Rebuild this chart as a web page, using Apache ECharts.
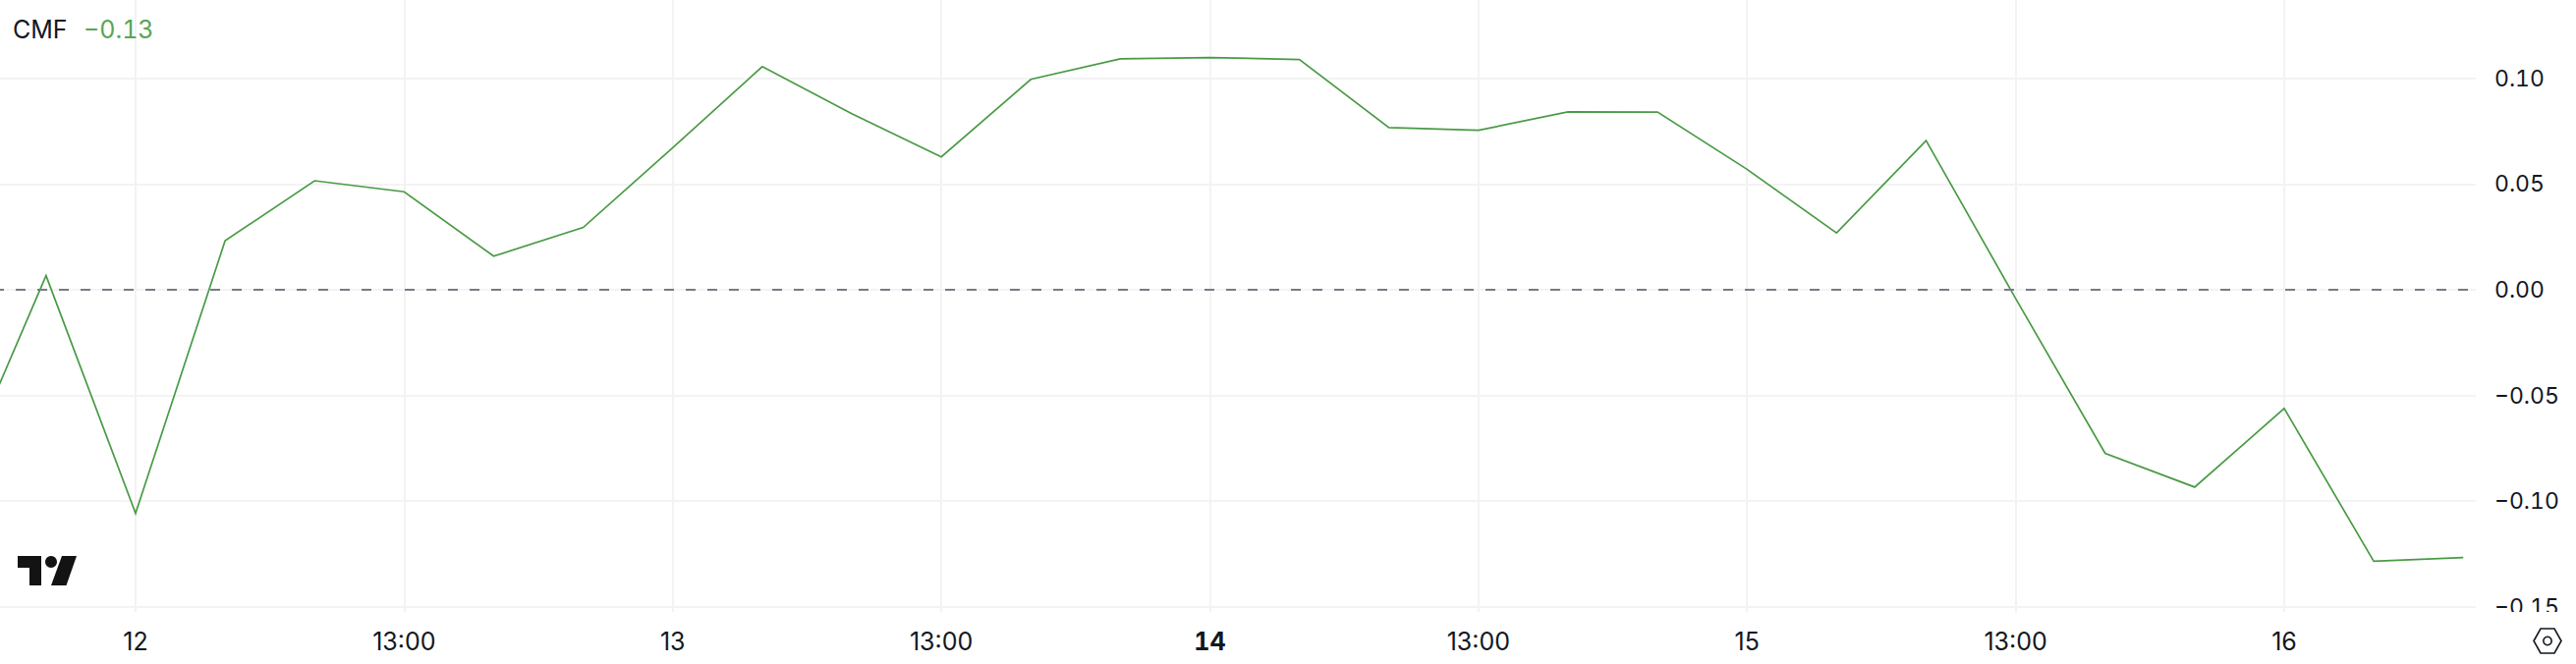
<!DOCTYPE html>
<html>
<head>
<meta charset="utf-8">
<style>html,body{margin:0;padding:0;background:#fff}#c{width:2622px;height:676px}
#c text{font-feature-settings:"tnum" 1;font-variant-numeric:tabular-nums}</style>
<script src="https://cdn.jsdelivr.net/npm/echarts@6/dist/echarts.min.js"></script>
</head>
<body>
<div id="c"></div>
<script>
const indicatorName = 'CMF';
const indicatorValue = '\u22120.13';
const barLabels = ['', '', '12', '', '', '13:00', '', '', '13', '', '', '13:00', '', '', '14', '', '', '13:00', '', '', '15', '', '', '13:00', '', '', '16', '', ''];
const cmfValues = [-0.0920, 0.0067, -0.1058, 0.0232, 0.0516, 0.0464, 0.0159, 0.0295, 0.0672, 0.1056, 0.0833, 0.0629, 0.0996, 0.1093, 0.1099, 0.1090, 0.0768, 0.0755, 0.0842, 0.0841, 0.0570, 0.0269, 0.0706, -0.0041, -0.0774, -0.0934, -0.0562, -0.1285, -0.1267];
const yTicks = [-0.15, -0.10, -0.05, 0, 0.05, 0.10];
const boldLabel = '14';

const FONT = 'Inter';
const TEXT = '#131722';
const GREEN = '#4a9a45';
const GRID = '#f3f3f4';

const xTicks = barLabels.map((l, i) => l ? i : -1).filter(i => i >= 0);
const chart = echarts.init(document.getElementById('c'), null, {renderer: 'svg'});
chart.setOption({
  animation: false,
  backgroundColor: '#ffffff',
  textStyle: {fontFamily: FONT},
  title: {
    left: 8, top: 12,
    text: '{n|' + indicatorName + '}{v|' + indicatorValue + '}',
    textStyle: {
      fontWeight: 'normal',
      rich: {
        n: {fontFamily: FONT, fontSize: 25, fontWeight: 'normal', color: TEXT, width: 72},
        v: {fontFamily: FONT, fontSize: 25, fontWeight: 'normal', color: '#5aa454'}
      }
    }
  },
  grid: {left: 0, top: 0, width: 2520, height: 623, containLabel: false},
  xAxis: {
    type: 'value',
    min: 0.4856, max: 28.14,
    axisLine: {show: false},
    axisTick: {show: false, customValues: xTicks},
    splitLine: {show: true, lineStyle: {color: GRID, width: 2}},
    axisLabel: {
      customValues: xTicks,
      margin: 17,
      fontFamily: FONT, fontSize: 25, color: TEXT,
      formatter: v => {
        const l = barLabels[Math.round(v)];
        return l === boldLabel ? '{b|' + l + '}' : l;
      },
      rich: {b: {fontFamily: FONT, fontSize: 25, fontWeight: 700, color: TEXT}}
    }
  },
  yAxis: {
    type: 'value',
    position: 'right',
    min: -0.15249, max: 0.13715,
    axisLine: {show: false},
    axisTick: {show: false, customValues: yTicks},
    splitLine: {show: true, lineStyle: {color: GRID, width: 2}},
    axisLabel: {
      customValues: yTicks,
      margin: 19,
      align: 'left',
      fontFamily: FONT, fontSize: 23, color: TEXT,
      formatter: v => (v < 0 ? '\u2212' : '') + Math.abs(v).toFixed(2)
    }
  },
  series: [{
    type: 'line',
    name: indicatorName,
    data: cmfValues.map((v, i) => [i, v]),
    showSymbol: false,
    symbol: 'none',
    silent: true,
    lineStyle: {color: GREEN, width: 1.7, join: 'miter'},
    markLine: {
      silent: true,
      symbol: 'none',
      label: {show: false},
      data: [{yAxis: 0}],
      lineStyle: {color: '#787b86', width: 2, type: [10, 12], dashOffset: 6}
    }
  }],
  graphic: [
    {type: 'rect', z: 100, silent: true, shape: {x: 2525, y: 623, width: 97, height: 14}, style: {fill: '#ffffff'}},
    {type: 'polygon', z: 101, silent: true, shape: {points: [[18,566],[42,566],[42,596],[30,596],[30,578],[18,578]]}, style: {fill: '#131313'}},
    {type: 'circle', z: 101, silent: true, shape: {cx: 52, cy: 572, r: 6}, style: {fill: '#131313'}},
    {type: 'polygon', z: 101, silent: true, shape: {points: [[63,566],[78,566],[67.5,596],[52,596]]}, style: {fill: '#131313'}},
    {type: 'polygon', z: 101, silent: true, shape: {points: [[2579,652.5],[2586,640],[2600,640],[2607,652.5],[2600,665],[2586,665]]}, style: {fill: 'none', stroke: TEXT, lineWidth: 1.6}},
    {type: 'circle', z: 101, silent: true, shape: {cx: 2593, cy: 652.5, r: 4.2}, style: {fill: 'none', stroke: TEXT, lineWidth: 1.6}}
  ]
});
</script>
</body>
</html>
